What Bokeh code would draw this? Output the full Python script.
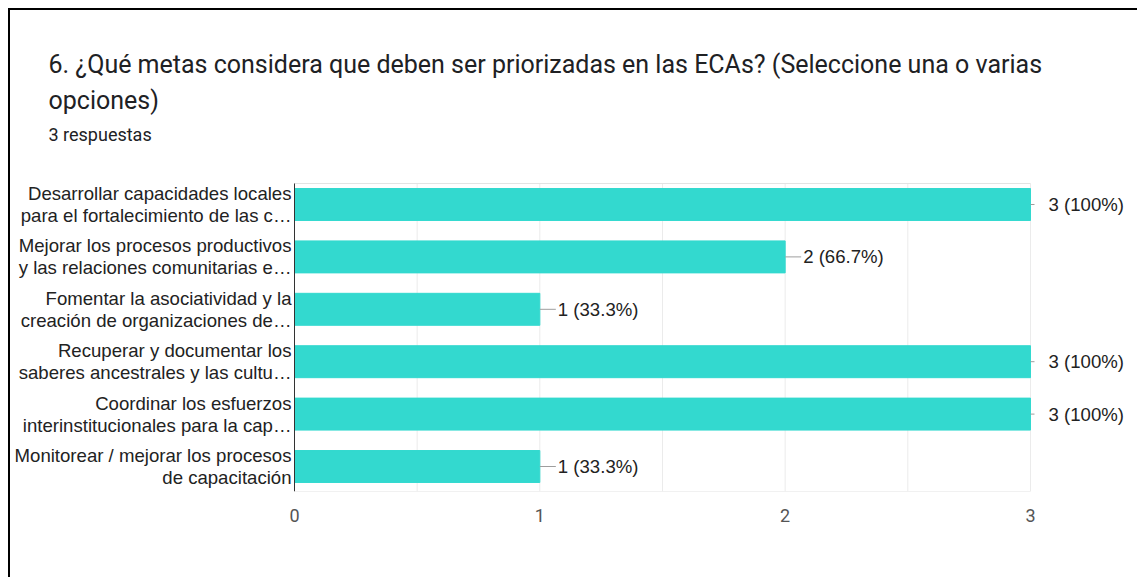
from bokeh.plotting import figure
from bokeh.models import ColumnDataSource, Range1d, FixedTicker
from bokeh.core.properties import value
from bokeh.embed import file_html
from bokeh.resources import INLINE

# ---- data ----
label_line1 = [
    "Desarrollar capacidades locales",
    "Mejorar los procesos productivos",
    "Fomentar la asociatividad y la",
    "Recuperar y documentar los",
    "Coordinar los esfuerzos",
    "Monitorear / mejorar los procesos",
]
label_line2 = [
    "para el fortalecimiento de las c…",
    "y las relaciones comunitarias e…",
    "creación de organizaciones de…",
    "saberes ancestrales y las cultu…",
    "interinstitucionales para la cap…",
    "de capacitación",
]
counts = [3, 2, 1, 3, 3, 1]
total_responses = 3
x_ticks = [0, 1, 2, 3]
grid_ticks = [0, 0.5, 1, 1.5, 2, 2.5, 3]
title_line1 = "6. ¿Qué metas considera que deben ser priorizadas en las ECAs?  (Seleccione una o varias"
title_line2 = "opciones)"
subtitle = "3 respuestas"


def pct_text(v, n):
    p = round(100.0 * v / n, 1)
    s = ("%.1f" % p).rstrip("0").rstrip(".")
    return f"{v} ({s}%)"


# ---- layout (pixels in canvas) ----
W, H = 1129, 569
BOTTOM = 88                      # room for the x-axis tick labels
FRAME_H = H - BOTTOM
X0_PX, X3_PX = 284, 1020         # where x=0 and x=3 fall
PX_PER_X = (X3_PX - X0_PX) / 3.0
ROW0_PX, ROW_PX = 194, 52.4      # centre of first row, row pitch
x_start = -X0_PX / PX_PER_X
x_end = (W - X0_PX) / PX_PER_X
y_top = -ROW0_PX / ROW_PX
y_bot = (FRAME_H - ROW0_PX) / ROW_PX


def dx(px):
    return x_start + px / PX_PER_X


def dy(py):
    return y_top + py / ROW_PX


plot_top = dy(173)
plot_bot = y_bot
x_max = max(x_ticks)

idx = list(range(len(counts)))
src = ColumnDataSource(dict(
    y=idx,
    v=counts,
    zero=[0] * len(counts),
    lead_end=[min(c + 16 / PX_PER_X, x_max + 4 / PX_PER_X) for c in counts],
    vtxt=[pct_text(c, total_responses) for c in counts],
    l1=label_line1,
    l2=label_line2,
    y1=[i - 11 / ROW_PX for i in idx],
    y2=[i + 11 / ROW_PX for i in idx],
))

p = figure(width=W, height=H, output_backend="svg", toolbar_location=None,
           x_range=Range1d(x_start, x_end), y_range=Range1d(y_bot, y_top),
           y_axis_location=None,
           min_border_left=0, min_border_right=0, min_border_top=0, min_border_bottom=BOTTOM)
p.styles = {"border-left": "2px solid black", "border-top": "2px solid black",
            "margin-left": "8px", "margin-top": "8px"}
p.outline_line_color = None
p.grid.grid_line_color = None

# grid lines and frame lines
p.segment(x0=grid_ticks, x1=grid_ticks, y0=[plot_top] * len(grid_ticks), y1=[plot_bot] * len(grid_ticks),
          line_color="#ebebeb", line_width=1)
p.segment(x0=[0, 0], x1=[x_max, x_max], y0=[plot_top, plot_bot], y1=[plot_top, plot_bot],
          line_color="#e3e3e3", line_width=1)

# bars
p.hbar(y="y", left="zero", right="v", height=0.61, source=src,
       fill_color="#33d9cf", line_color="#33d9cf")
# leader lines
p.segment(x0="v", x1="lead_end", y0="y", y1="y", source=src, line_color="#9e9e9e", line_width=1)
# left axis line
p.segment(x0=[0], x1=[0], y0=[plot_top], y1=[plot_bot], line_color="#333333", line_width=1)

FONT = value("Liberation Sans")
SIZE = value("18.6px")
p.text(x="v", y="y", text="vtxt", source=src, x_offset=18,
       text_align="left", text_baseline="middle",
       text_font=FONT, text_font_size=SIZE, text_color="#222222")
p.text(x="zero", y="y1", text="l1", source=src, x_offset=-3,
       text_align="right", text_baseline="middle",
       text_font=FONT, text_font_size=SIZE, text_color="#222222")
p.text(x="zero", y="y2", text="l2", source=src, x_offset=-3,
       text_align="right", text_baseline="middle",
       text_font=FONT, text_font_size=SIZE, text_color="#222222")

# titles
p.text(x=[dx(38), dx(38)], y=[dy(54), dy(90)], text=[title_line1, title_line2],
       text_align="left", text_baseline="middle",
       text_font=value("Roboto"), text_font_size=value("25px"), text_color="#202124")
p.text(x=[dx(38)], y=[dy(124)], text=[subtitle],
       text_align="left", text_baseline="middle",
       text_font=value("Roboto"), text_font_size=value("18px"), text_color="#202124")

# x axis
p.xaxis.ticker = FixedTicker(ticks=x_ticks)
p.xaxis.axis_line_color = None
p.xaxis.major_tick_line_color = None
p.xaxis.minor_tick_line_color = None
p.xaxis.major_label_standoff = 11
p.xaxis.major_label_text_font = "Roboto"
p.xaxis.major_label_text_font_size = "18px"
p.xaxis.major_label_text_color = "#555555"

open("out.html", "w").write(file_html(p, INLINE))
